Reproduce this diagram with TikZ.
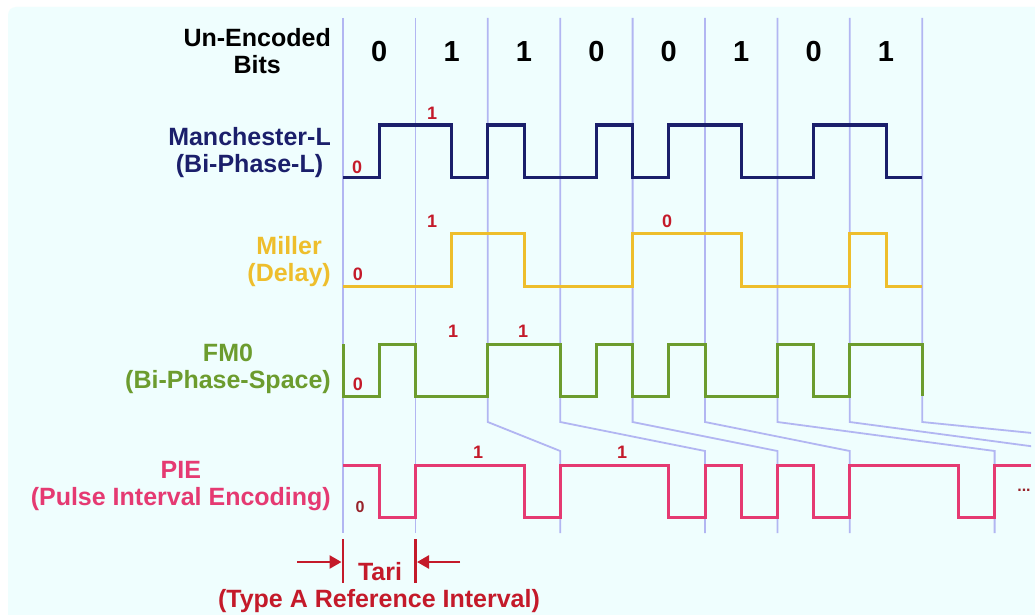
\documentclass[tikz,border=0pt]{standalone}
\usepackage{fontspec}
\setmainfont{Liberation Sans}
\usetikzlibrary{arrows.meta}
\definecolor{bgc}{HTML}{EFFEFE}
\definecolor{gridc}{HTML}{B2B6F2}
\definecolor{manc}{HTML}{1B1F6B}
\definecolor{milc}{HTML}{EEBE2C}
\definecolor{fmc}{HTML}{6C9C2E}
\definecolor{piec}{HTML}{E53A72}
\definecolor{redc}{HTML}{C41A2A}
\definecolor{darkred}{HTML}{98222A}
\begin{document}
\begin{tikzpicture}[x=1pt,y=-1pt,
  gridline/.style={draw=gridc,line width=1.8pt},
  wave/.style={line width=3pt,line join=miter},
  lbl/.style={font=\fontsize{25}{27}\selectfont\bfseries,align=center,anchor=east,inner sep=0pt},
  bitnum/.style={font=\fontsize{29}{30}\selectfont\bfseries,inner sep=0pt},
  bitlbl/.style={font=\fontsize{18}{18}\selectfont\bfseries,text=redc,inner sep=0pt},
  taripart/.style={draw=redc,line width=2.6pt},
  tarilbl/.style={font=\fontsize{25}{27}\selectfont\bfseries,text=redc,inner sep=0pt}
]
\useasboundingbox (0,0) rectangle (1035,615);
\fill[white] (0,0) rectangle (1035,615);
\fill[bgc,rounded corners=8pt] (8,7) rectangle (1050,630);

% grid lines
\begin{scope}
\clip (0,0) rectangle (1031,615);
\draw[gridline] (343,18) -- (343,533);
\draw[gridline] (415.4,18) -- (415.4,533);
\draw[gridline] (487.8,18) -- (487.8,422) -- (560.2,451) -- (560.2,533);
\draw[gridline] (560.2,18) -- (560.2,422) -- (705,451) -- (705,533);
\draw[gridline] (632.6,18) -- (632.6,422) -- (777.4,451) -- (777.4,533);
\draw[gridline] (705,18) -- (705,422) -- (849.8,451) -- (849.8,533);
\draw[gridline] (777.4,18) -- (777.4,422) -- (994.6,451) -- (994.6,533);
\draw[gridline] (849.8,18) -- (849.8,422) -- (1067,451) -- (1067,533);
\draw[gridline] (922.2,18) -- (922.2,422) -- (1211.8,451) -- (1211.8,533);
\end{scope}

% left labels
\node[lbl,text=black] (hdr) at (331,51) {Un-Encoded\\Bits};
\node[lbl,text=manc] (manl) at (331,153) {Manchester-L\\(Bi-Phase-L)};
\node[lbl,text=milc] (mill) at (331,262) {Miller\\(Delay)};
\node[lbl,text=fmc] (fml) at (331,369) {FM0\\(Bi-Phase-Space)};
\node[lbl,text=piec] (piel) at (331,486) {PIE\\(Pulse Interval Encoding)};

% header bits
\node[bitnum] (b0) at (379.2,52) {0};
\node[bitnum] (b1) at (451.6,52) {1};
\node[bitnum] (b2) at (524.0,52) {1};
\node[bitnum] (b3) at (596.4,52) {0};
\node[bitnum] (b4) at (668.8,52) {0};
\node[bitnum] (b5) at (741.2,52) {1};
\node[bitnum] (b6) at (813.6,52) {0};
\node[bitnum] (b7) at (886.0,52) {1};

% Manchester
\draw[wave,manc] (343,177) -| (379.2,125) -| (451.6,177) -| (487.8,125) -| (524,177)
  -| (596.4,125) -| (632.6,177) -| (668.8,125) -| (741.2,177) -| (813.6,125)
  -| (886,177) -- (922.2,177);
\node[bitlbl] (m0) at (357,167) {0};
\node[bitlbl] (m1) at (432,113) {1};

% Miller
\draw[wave,milc] (343,286) -| (451.6,233) -| (524,286) -| (632.6,233) -| (741.2,286)
  -| (849.8,233) -| (886,286) -- (922.2,286);
\node[bitlbl] (l0) at (358,274) {0};
\node[bitlbl] (l1) at (432,221) {1};
\node[bitlbl] (l2) at (667,221) {0};

% FM0
\draw[wave,fmc] (343,344) -- (343,396) -| (379.2,344) -| (415.4,396) -| (487.8,344)
  -| (560.2,396) -| (596.4,344) -| (632.6,396) -| (668.8,344) -| (705,396)
  -| (777.4,344) -| (813.6,396) -| (849.8,344) -| (922.2,396);
\node[bitlbl] (f0) at (358,384) {0};
\node[bitlbl] (f1) at (453,331) {1};
\node[bitlbl] (f2) at (523,331) {1};

% PIE
\draw[wave,piec] (343,465) -| (379.2,517) -| (415.4,465) -| (524,517) -| (560.2,465)
  -| (668.8,517) -| (705,465) -| (741.2,517) -| (777.4,465) -| (813.6,517)
  -| (849.8,465) -| (958.4,517) -| (994.6,465) -- (1031,465);
\node[bitlbl,text=darkred,font=\fontsize{16}{16}\selectfont\bfseries] (p0) at (360,507) {0};
\node[bitlbl] (p1) at (478,452) {1};
\node[bitlbl] (p2) at (622,452) {1};
\node[bitlbl,text=darkred,font=\fontsize{16}{16}\selectfont\bfseries] (dots) at (1024,490) {...};

% Tari
\draw[taripart] (343,539) -- (343,583);
\draw[taripart] (415.4,539) -- (415.4,583);
\coordinate (aLs) at (297,562);
\coordinate (aLe) at (341.5,562);
\coordinate (aRs) at (460,562);
\coordinate (aRe) at (417,562);
\draw[taripart,-{Triangle[length=12pt,width=13pt]}] (aLs) -- (aLe);
\draw[taripart,-{Triangle[length=12pt,width=13pt]}] (aRs) -- (aRe);
\node[tarilbl] (tari) at (380,572) {Tari};
\node[tarilbl] (tref) at (379,601) {(Type A Reference Interval)};
\end{tikzpicture}
\end{document}
